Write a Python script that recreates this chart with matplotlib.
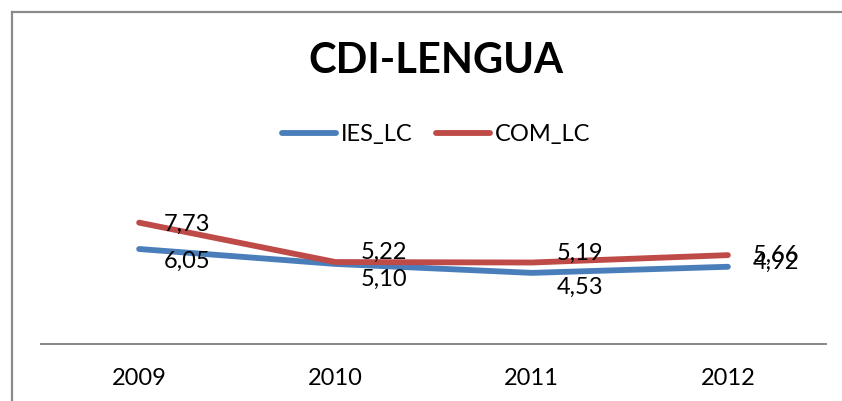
import matplotlib
matplotlib.use("Agg")
import matplotlib.pyplot as plt
from matplotlib.lines import Line2D

# ---- data ----
years = ["2009", "2010", "2011", "2012"]
ies_lc = [6.05, 5.10, 4.53, 4.92]
com_lc = [7.73, 5.22, 5.19, 5.66]
series_names = ["IES_LC", "COM_LC"]
title = "CDI-LENGUA"

# ---- layout (label placement, pixels, downward positive) ----
ies_label_dy = [12, 15, 14, -4]
com_label_dy = [2, -10, -9.5, 0]
label_dx_px = 25

FONT = "Lato"
W, H = 842, 401
fig = plt.figure(figsize=(W / 100, H / 100), dpi=100)
fig.patch.set_facecolor("white")

# outer chart border (cropped at right/bottom): left and top edges only
bx, by = 11.5 / W, 1 - 12 / H
fig.add_artist(Line2D([bx, bx], [-0.05, by], transform=fig.transFigure,
                      color="#8a8a8a", linewidth=1.6, solid_capstyle="projecting"))
fig.add_artist(Line2D([bx, 1.05], [by, by], transform=fig.transFigure,
                      color="#8a8a8a", linewidth=1.6, solid_capstyle="projecting"))

ax_left, ax_right = 41, 826
ax_bottom, ax_height = 344, 157
ax = fig.add_axes([ax_left / W, (H - ax_bottom) / H,
                   (ax_right - ax_left) / W, ax_height / H])
ax.set_xlim(-0.5, len(years) - 0.5)
ax.set_ylim(0, 10)
for s in ["top", "right", "left"]:
    ax.spines[s].set_visible(False)
ax.spines["bottom"].set_color("#868686")
ax.spines["bottom"].set_linewidth(1.4)
ax.set_yticks([])
ax.set_xticks(range(len(years)))
ax.set_xticklabels(years, fontsize=17, family=FONT)
ax.tick_params(axis="x", length=0, pad=17)
ax.patch.set_alpha(0)

x = list(range(len(years)))
l1, = ax.plot(x, ies_lc, color="#4A7EBB", linewidth=4.2, solid_capstyle="round",
              solid_joinstyle="round", label=series_names[0])
l2, = ax.plot(x, com_lc, color="#BE4B48", linewidth=4.2, solid_capstyle="round",
              solid_joinstyle="round", label=series_names[1])

px2pt = 72 / 100
for vals, dys in [(ies_lc, ies_label_dy), (com_lc, com_label_dy)]:
    for xi, v, dy in zip(x, vals, dys):
        ax.annotate(f"{v:.2f}".replace(".", ","), (xi, v),
                    xytext=(label_dx_px * px2pt, -dy * px2pt),
                    textcoords="offset points", ha="left", va="center",
                    fontsize=17, family=FONT, color="black")

fig.text(436 / W, 1 - 61 / H, title, ha="center", va="center",
         fontsize=30, fontweight="bold", family=FONT)

fig.legend(handles=[l1, l2], loc="center", bbox_to_anchor=(436 / W, 1 - 135 / H),
           ncol=2, frameon=False, prop={"family": FONT, "size": 17},
           handlelength=2.3, handletextpad=0.2, columnspacing=1.0)

fig.savefig("out.png", dpi=100)
